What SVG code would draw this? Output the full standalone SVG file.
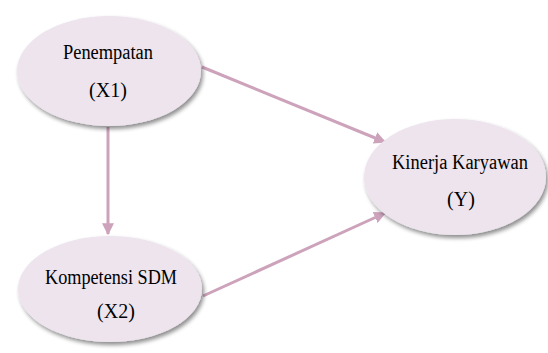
<svg xmlns="http://www.w3.org/2000/svg" width="548" height="353" viewBox="0 0 548 353">
<style>
.node ellipse{fill:#ede4ee;filter:url(#sh)}
.lbl{font-size:20px;fill:#000;text-anchor:middle}
.edge{stroke:#cda3bb;stroke-width:3;fill:none;marker-end:url(#ah)}
</style>
<defs>
<filter id="sh" x="-10%" y="-10%" width="125%" height="130%">
<feGaussianBlur in="SourceAlpha" stdDeviation="2.2"/>
<feOffset dx="2" dy="3" result="b"/>
<feComponentTransfer><feFuncA type="linear" slope="0.45"/></feComponentTransfer>
<feMerge><feMergeNode/><feMergeNode in="SourceGraphic"/></feMerge>
</filter>
<marker id="ah" viewBox="0 0 10 10" refX="9" refY="5" markerWidth="4" markerHeight="4" orient="auto" markerUnits="strokeWidth">
<path d="M0,0 L10,5 L0,10 Z" fill="#cda3bb"/>
</marker>
</defs>
<g id="connectors">
<line class="edge" x1="108" y1="127" x2="108" y2="234"/>
<line class="edge" x1="202" y1="67" x2="385" y2="142"/>
<line class="edge" x1="203" y1="296" x2="385" y2="213"/>
</g>
<g font-family="Liberation Serif, Times New Roman, DejaVu Serif, serif">
<g id="n1" class="node">
<ellipse cx="109" cy="71" rx="92" ry="55"/>
<text class="lbl" x="108" y="59" textLength="90" lengthAdjust="spacingAndGlyphs">Penempatan</text>
<text class="lbl" x="108" y="97">(X1)</text>
</g>
<g id="n2" class="node">
<ellipse cx="110" cy="289" rx="92" ry="53"/>
<text class="lbl" x="111" y="284" textLength="132" lengthAdjust="spacingAndGlyphs">Kompetensi SDM</text>
<text class="lbl" x="116" y="318">(X2)</text>
</g>
<g id="n3" class="node">
<ellipse cx="455" cy="177" rx="91" ry="58"/>
<text class="lbl" x="460" y="169" textLength="136" lengthAdjust="spacingAndGlyphs">Kinerja Karyawan</text>
<text class="lbl" x="461" y="206">(Y)</text>
</g>
</g>
</svg>
